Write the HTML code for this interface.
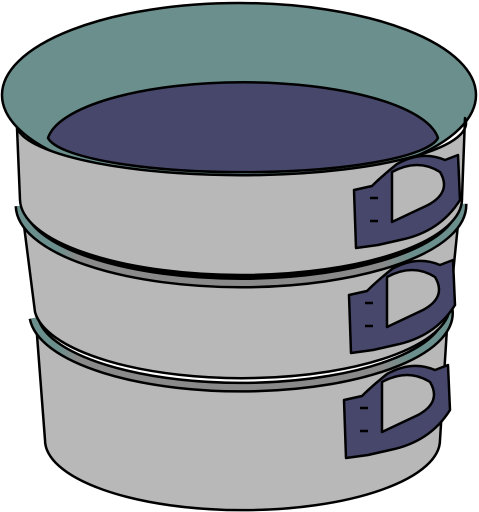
<!DOCTYPE html>
<html><head><style>html,body{margin:0;padding:0;background:#fff}svg{display:block}</style></head><body>
<svg width="479" height="512" viewBox="0 0 479 512" xmlns="http://www.w3.org/2000/svg" stroke="#000" stroke-width="2.5" stroke-linejoin="round">
<defs>
<linearGradient id="rg" gradientUnits="userSpaceOnUse" x1="0" y1="0" x2="479" y2="0">
<stop offset="0" stop-color="#6a8f8c"/><stop offset="0.12" stop-color="#6a8f8c"/>
<stop offset="0.16" stop-color="#8a8a8a"/><stop offset="0.8" stop-color="#8a8a8a"/>
<stop offset="0.86" stop-color="#6a8f8c"/><stop offset="1" stop-color="#6a8f8c"/>
</linearGradient>
<g id="h">
<path d="M354,190 L372,186 Q382,176 397,164 Q422,150 445,160 L458,155 L460,200 Q440,232 400,240 L378,245 L356,248 Z" fill="#47476b"/>
<path d="M392,172 Q418,158 440,172 Q452,192 428,205 L392,222 Z" fill="#b8b8b8"/>
<line x1="370" y1="198" x2="378" y2="198"/><line x1="370" y1="221" x2="378" y2="221"/>
</g>
</defs>
<!-- bottom pan -->
<path d="M36,322 A207,72 0 0 0 448,312 L440,440 A197,70 0 0 1 45,440 Z" fill="#b8b8b8"/>
<use href="#h" transform="translate(-10,210)"/>
<!-- ring 2 -->
<path d="M34,318 A207,74 0 0 0 448,308" fill="none" stroke="#000" stroke-width="11"/>
<path d="M34,318 A207,74 0 0 0 448,308" fill="none" stroke="url(#rg)" stroke-width="6"/>
<!-- mid pan -->
<path d="M22,210 A220,76 0 0 0 460,205 L450,303 A208,73 0 0 1 35,312 Z" fill="#b8b8b8"/>
<use href="#h" transform="translate(-5,105)"/>
<!-- ring 1 -->
<path d="M20,206 A221,78 0 0 0 462,204" fill="none" stroke="#000" stroke-width="11"/>
<path d="M20,206 A221,78 0 0 0 462,204" fill="none" stroke="url(#rg)" stroke-width="6"/>
<!-- top pan -->
<ellipse cx="239" cy="95" rx="237" ry="92" fill="#6a8f8c"/>
<path d="M48,138 A196,62 0 0 1 438,138 A196,38 0 0 1 48,138 Z" fill="#47476b"/>
<path d="M17,128 A224,52 0 0 0 465,118 L462,198 A221,76 0 0 1 20,200 Z" fill="#b8b8b8"/>
<use href="#h"/>
</svg>
</body></html>
